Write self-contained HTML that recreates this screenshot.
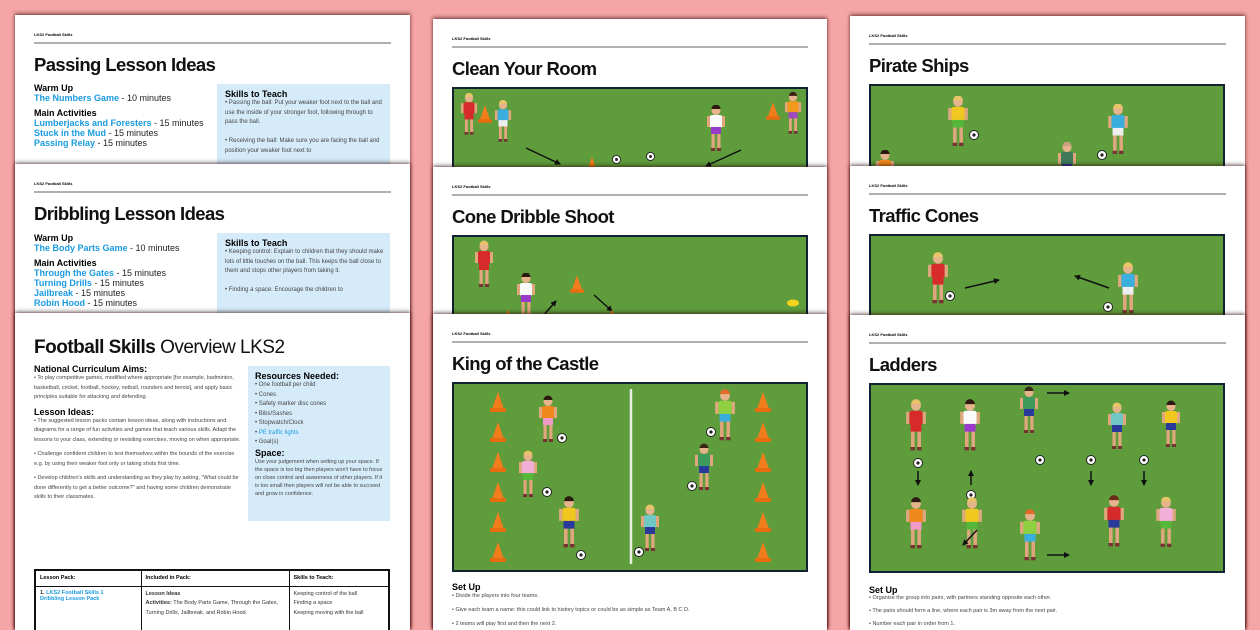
<!DOCTYPE html>
<html><head><meta charset="utf-8">
<style>
*{margin:0;padding:0;box-sizing:border-box}
html{width:1260px;height:630px;overflow:hidden}
body{width:1260px;height:630px;overflow:hidden;background:#f5a5a5;font-family:"Liberation Sans",sans-serif;position:relative}
.pg{position:absolute;background:#fff;bottom:0;box-shadow:0 -2px 4px rgba(0,0,0,.35),0 0 3px rgba(120,0,0,.6)}
.hd{position:absolute;left:19px;top:17px;font-size:4px;font-weight:bold;color:#000}
.rl{position:absolute;left:19px;right:19px;top:27px;height:2px;background:#b0b0b0}
.tt{position:absolute;left:19px;top:39px;font-size:18.5px;font-weight:bold;color:#111;letter-spacing:-.6px;white-space:nowrap}
.fd{position:absolute;left:19px;top:68px;width:356px;height:190px;border:2px solid #123;background:#5f9c3c}
.fd svg{position:absolute;left:0;top:0}
.s{position:absolute;font-size:9px;color:#222;line-height:10px;white-space:nowrap}
.b{font-weight:bold;color:#000}
.a{color:#1a9be0;font-weight:bold}
.box{position:absolute;background:#d6ebfa}
.sm{font-size:6px;line-height:9.5px;color:#444}
.sm li{margin-left:12px}
table{border-collapse:collapse}
</style></head><body>
<svg width="0" height="0" style="position:absolute">
<defs>
<symbol id="p" viewBox="0 0 20 46"><rect x="5.5" y="28" width="3.2" height="15" fill="#e0a77e"/><rect x="11.3" y="28" width="3.2" height="15" fill="#e0a77e"/><rect x="5" y="43" width="4" height="3" fill="#733"/><rect x="11" y="43" width="4" height="3" fill="#733"/><rect x="1" y="11" width="3" height="11" fill="#e0a77e"/><rect x="16" y="11" width="3" height="11" fill="#e0a77e"/><rect x="4" y="10" width="12" height="13" rx="2" fill="currentColor"/><rect x="5" y="22" width="10" height="7" style="fill:var(--s,#fff)"/><circle cx="10" cy="5.5" r="4.5" fill="#e6b48c"/><path d="M5.5 4a4.5 4.5 0 0 1 9 0z" style="fill:var(--h,#e7c46a)"/></symbol>
<symbol id="c" viewBox="0 0 16 20"><path d="M8 0L14 17H2z" fill="#f27d1c"/><rect x="0" y="16" width="16" height="4" rx="1" fill="#e86c10"/></symbol>
<symbol id="o" viewBox="0 0 10 10"><circle cx="5" cy="5" r="4.5" fill="#fff" stroke="#222" stroke-width="1"/><circle cx="5" cy="5" r="1.6" fill="#222"/></symbol>
<marker id="m" viewBox="0 0 6 6" refX="5" refY="3" markerWidth="4" markerHeight="4" orient="auto"><path d="M0 0L6 3L0 6z" fill="#111"/></marker>
</defs></svg>

<!-- LEFT COLUMN -->
<div class="pg" style="left:15px;top:15px;width:395px">
 <div class="hd">LKS2 Football Skills</div><div class="rl"></div>
 <div class="tt">Passing Lesson Ideas</div>
 <div class="s" style="left:19px;top:68px"><span class="b">Warm Up</span><br><span class="a">The Numbers Game</span> - 10 minutes<br><div style="height:5px"></div><span class="b">Main Activities</span><br><span class="a">Lumberjacks and Foresters</span> - 15 minutes<br><span class="a">Stuck in the Mud</span> - 15 minutes<br><span class="a">Passing Relay</span> - 15 minutes</div>
 <div class="box" style="left:202px;top:69px;width:173px;height:90px"><div class="s" style="left:8px;top:5px;white-space:normal;width:160px"><span class="b">Skills to Teach</span><div class="sm">• Passing the ball: Put your weaker foot next to the ball and use the inside of your stronger foot, following through to pass the ball.<br><br>• Receiving the ball: Make sure you are facing the ball and position your weaker foot next to</div></div></div>
</div>

<div class="pg" style="left:15px;top:164px;width:395px">
 <div class="hd">LKS2 Football Skills</div><div class="rl"></div>
 <div class="tt">Dribbling Lesson Ideas</div>
 <div class="s" style="left:19px;top:69px"><span class="b">Warm Up</span><br><span class="a">The Body Parts Game</span> - 10 minutes<br><div style="height:5px"></div><span class="b">Main Activities</span><br><span class="a">Through the Gates</span> - 15 minutes<br><span class="a">Turning Drills</span> - 15 minutes<br><span class="a">Jailbreak</span> - 15 minutes<br><span class="a">Robin Hood</span> - 15 minutes</div>
 <div class="box" style="left:202px;top:69px;width:173px;height:90px"><div class="s" style="left:8px;top:5px;white-space:normal;width:160px"><span class="b">Skills to Teach</span><div class="sm">• Keeping control: Explain to children that they should make lots of little touches on the ball. This keeps the ball close to them and stops other players from taking it.<br><br>• Finding a space: Encourage the children to</div></div></div>
</div>

<div class="pg" style="left:15px;top:313px;width:395px">
 <div style="position:absolute;left:19px;top:24px;font-size:19px;color:#111;white-space:nowrap;letter-spacing:-.5px"><b>Football Skills</b> Overview LKS2</div>
 <div class="s" style="left:19px;top:51px;width:210px;white-space:normal"><span class="b">National Curriculum Aims:</span><div class="sm" style="font-size:5.5px">• To play competitive games, modified where appropriate [for example, badminton, basketball, cricket, football, hockey, netball, rounders and tennis], and apply basic principles suitable for attacking and defending.</div><div style="height:4px"></div><span class="b">Lesson Ideas:</span><div class="sm" style="font-size:5.5px">• The suggested lesson packs contain lesson ideas, along with instructions and diagrams for a range of fun activities and games that teach various skills. Adapt the lessons to your class, extending or revisiting exercises, moving on when appropriate.<div style="height:5px"></div>• Challenge confident children to test themselves within the bounds of the exercise e.g. by using their weaker foot only or taking shots first time.<div style="height:5px"></div>• Develop children's skills and understanding as they play by asking, "What could be done differently to get a better outcome?" and having some children demonstrate skills to their classmates.</div></div>
 <div class="box" style="left:233px;top:53px;width:142px;height:155px"><div class="s" style="left:7px;top:5px;white-space:normal;width:130px"><span class="b">Resources Needed:</span><div class="sm">• One football per child<br>• Cones<br>• Safety marker disc cones<br>• Bibs/Sashes<br>• Stopwatch/Clock<br>• <span style="color:#1a9be0">PE traffic lights</span><br>• Goal(s)</div><span class="b">Space:</span><div class="sm" style="line-height:8px;font-size:5.5px">Use your judgement when setting up your space. If the space is too big then players won't have to focus on close control and awareness of other players. If it is too small then players will not be able to succeed and grow in confidence.</div></div></div>
 <table style="position:absolute;left:19px;top:256px;width:356px;border:2px solid #111;font-size:5.5px;color:#333">
  <tr style="height:16px;font-weight:bold;color:#000"><td style="width:106px;border:1px solid #111;padding:2px 4px">Lesson Pack:</td><td style="width:148px;border:1px solid #111;padding:2px 4px">Included in Pack:</td><td style="border:1px solid #111;padding:2px 4px">Skills to Teach:</td></tr>
  <tr style="height:60px;vertical-align:top"><td style="border:1px solid #111;padding:3px 4px"><b>1.</b> <span style="color:#1a9be0;font-weight:bold">LKS2 Football Skills 1<br>Dribbling Lesson Pack</span></td><td style="border:1px solid #111;padding:3px 4px;line-height:9.5px"><b>Lesson Ideas</b><br><b>Activities:</b> The Body Parts Game, Through the Gates, Turning Drills, Jailbreak, and Robin Hood.</td><td style="border:1px solid #111;padding:3px 4px;line-height:9.5px">Keeping control of the ball<br>Finding a space<br>Keeping moving with the ball</td></tr>
 </table>
</div>

<!-- MIDDLE COLUMN -->
<div class="pg" style="left:433px;top:19px;width:394px">
 <div class="hd">LKS2 Football Skills</div><div class="rl"></div>
 <div class="tt">Clean Your Room</div>
 <div class="fd"><svg width="352" height="186">
  <use href="#p" x="6" y="4" width="18" height="42" style="color:#d72a2a;--s:#d72a2a"/>
  <use href="#c" x="24" y="16" width="14" height="18"/>
  <use href="#p" x="40" y="10" width="18" height="44" style="color:#3aaedc;--s:#eee"/>
  <line x1="72" y1="59" x2="106" y2="75" stroke="#111" stroke-width="1.5" marker-end="url(#m)"/>
  <use href="#c" x="130" y="68" width="16" height="20"/>
  <use href="#o" x="158" y="66" width="9" height="9"/><use href="#o" x="192" y="63" width="9" height="9"/>
  <line x1="287" y1="61" x2="252" y2="77" stroke="#111" stroke-width="1.5" marker-end="url(#m)"/>
  <use href="#p" x="252" y="16" width="20" height="46" style="color:#fafafa;--s:#9a3acb;--h:#2a1a10"/>
  <use href="#c" x="312" y="12" width="14" height="20"/>
  <use href="#p" x="330" y="2" width="18" height="44" style="color:#f39a1c;--s:#a04ac0;--h:#3a2010"/>
 </svg></div>
</div>

<div class="pg" style="left:433px;top:167px;width:394px">
 <div class="hd">LKS2 Football Skills</div><div class="rl"></div>
 <div class="tt">Cone Dribble Shoot</div>
 <div class="fd"><svg width="352" height="186">
  <use href="#p" x="20" y="2" width="20" height="50" style="color:#d72a2a;--s:#d72a2a"/>
  <use href="#p" x="62" y="36" width="20" height="46" style="color:#fafafa;--s:#9a3acb;--h:#2a1a10"/>
  <use href="#c" x="116" y="37" width="14" height="20"/>
  <line x1="140" y1="58" x2="158" y2="74" stroke="#111" stroke-width="1.5" marker-end="url(#m)"/>
  <line x1="88" y1="80" x2="102" y2="64" stroke="#111" stroke-width="1.5" marker-end="url(#m)"/>
  <use href="#c" x="152" y="72" width="12" height="16"/><use href="#c" x="48" y="72" width="12" height="16"/>
  <ellipse cx="339" cy="66" rx="6" ry="3.5" fill="#f5d21c"/>
 </svg></div>
</div>

<div class="pg" style="left:433px;top:314px;width:394px">
 <div class="hd">LKS2 Football Skills</div><div class="rl"></div>
 <div class="tt">King of the Castle</div>
 <div class="fd" style="height:190px"><svg width="352" height="186">
  <line x1="177" y1="5" x2="177" y2="180" stroke="#e8efe0" stroke-width="2.5"/>
  <g>
  <use href="#c" x="36" y="8" width="16" height="20"/><use href="#c" x="36" y="38" width="16" height="20"/><use href="#c" x="36" y="68" width="16" height="20"/><use href="#c" x="36" y="98" width="16" height="20"/><use href="#c" x="36" y="128" width="16" height="20"/><use href="#c" x="36" y="158" width="16" height="20"/>
  <use href="#c" x="301" y="8" width="16" height="20"/><use href="#c" x="301" y="38" width="16" height="20"/><use href="#c" x="301" y="68" width="16" height="20"/><use href="#c" x="301" y="98" width="16" height="20"/><use href="#c" x="301" y="128" width="16" height="20"/><use href="#c" x="301" y="158" width="16" height="20"/>
  </g>
  <use href="#p" x="84" y="10" width="20" height="50" style="color:#f0891c;--s:#f09ac8;--h:#2a1a10"/><use href="#o" x="103" y="49" width="10" height="10"/>
  <use href="#p" x="64" y="64" width="20" height="52" style="color:#f2b0d8;--s:#55b83a"/><use href="#o" x="88" y="103" width="10" height="10"/>
  <use href="#p" x="104" y="112" width="22" height="52" style="color:#f0c820;--s:#2a3a9a;--h:#2a1a10"/><use href="#o" x="122" y="166" width="10" height="10"/>
  <use href="#p" x="260" y="5" width="22" height="52" style="color:#8ed040;--s:#3aaedc;--h:#e26a2a"/><use href="#o" x="252" y="43" width="10" height="10"/>
  <use href="#p" x="240" y="58" width="20" height="50" style="color:#3e9a5a;--s:#2a3a9a;--h:#3a2a18"/><use href="#o" x="233" y="97" width="10" height="10"/>
  <use href="#p" x="186" y="118" width="20" height="52" style="color:#70c8c4;--s:#2a3a9a"/><use href="#o" x="180" y="163" width="10" height="10"/>
 </svg></div>
 <div class="s" style="left:19px;top:268px;width:360px"><span class="b">Set Up</span><div class="sm" style="font-size:5.5px;line-height:14px;margin-top:-3px">• Divide the players into four teams.<br>• Give each team a name: this could link to history topics or could be as simple as Team A, B C D.<br>• 2 teams will play first and then the next 2.</div></div>
</div>

<!-- RIGHT COLUMN -->
<div class="pg" style="left:850px;top:16px;width:395px">
 <div class="hd">LKS2 Football Skills</div><div class="rl"></div>
 <div class="tt">Pirate Ships</div>
 <div class="fd"><svg width="352" height="186">
  <use href="#p" x="76" y="10" width="22" height="50" style="color:#f0c820;--s:#55b83a"/><use href="#o" x="98" y="44" width="10" height="10"/>
  <use href="#p" x="236" y="18" width="22" height="50" style="color:#3aaedc;--s:#eee"/><use href="#o" x="226" y="64" width="10" height="10"/>
  <use href="#p" x="186" y="56" width="20" height="46" style="color:#3e7a5a;--s:#2a3a9a;--h:#c8a080"/>
  <use href="#p" x="4" y="64" width="20" height="46" style="color:#f0891c;--s:#333;--h:#2a1a10"/>
 </svg></div>
</div>

<div class="pg" style="left:850px;top:166px;width:395px">
 <div class="hd">LKS2 Football Skills</div><div class="rl"></div>
 <div class="tt">Traffic Cones</div>
 <div class="fd"><svg width="352" height="186">
  <use href="#p" x="56" y="16" width="22" height="52" style="color:#d72a2a;--s:#d72a2a"/><use href="#o" x="74" y="55" width="10" height="10"/>
  <line x1="94" y1="52" x2="128" y2="44" stroke="#111" stroke-width="1.5" marker-end="url(#m)"/>
  <line x1="238" y1="52" x2="204" y2="40" stroke="#111" stroke-width="1.5" marker-end="url(#m)"/>
  <use href="#p" x="246" y="26" width="22" height="52" style="color:#3aaedc;--s:#eee"/><use href="#o" x="232" y="66" width="10" height="10"/>
 </svg></div>
</div>

<div class="pg" style="left:850px;top:315px;width:395px">
 <div class="hd">LKS2 Football Skills</div><div class="rl"></div>
 <div class="tt">Ladders</div>
 <div class="fd" style="height:190px"><svg width="352" height="186">
  <use href="#p" x="34" y="14" width="22" height="52" style="color:#d72a2a;--s:#d72a2a"/>
  <use href="#p" x="88" y="14" width="22" height="52" style="color:#fafafa;--s:#9a3acb;--h:#2a1a10"/>
  <use href="#p" x="148" y="0" width="20" height="50" style="color:#3e9a5a;--s:#2a3a9a;--h:#3a2a18"/>
  <line x1="176" y1="8" x2="198" y2="8" stroke="#111" stroke-width="1.5" marker-end="url(#m)"/>
  <use href="#p" x="236" y="16" width="20" height="50" style="color:#70c8c4;--s:#2a3a9a"/>
  <use href="#p" x="290" y="14" width="20" height="50" style="color:#f0c820;--s:#2a3a9a;--h:#2a1a10"/>
  <use href="#o" x="42" y="73" width="10" height="10"/><use href="#o" x="95" y="105" width="10" height="10"/><use href="#o" x="164" y="70" width="10" height="10"/><use href="#o" x="215" y="70" width="10" height="10"/><use href="#o" x="268" y="70" width="10" height="10"/>
  <line x1="47" y1="86" x2="47" y2="100" stroke="#111" stroke-width="1.5" marker-end="url(#m)"/>
  <line x1="100" y1="100" x2="100" y2="86" stroke="#111" stroke-width="1.5" marker-end="url(#m)"/>
  <line x1="220" y1="86" x2="220" y2="100" stroke="#111" stroke-width="1.5" marker-end="url(#m)"/>
  <line x1="273" y1="86" x2="273" y2="100" stroke="#111" stroke-width="1.5" marker-end="url(#m)"/>
  <use href="#p" x="34" y="112" width="22" height="52" style="color:#f0891c;--s:#f09ac8;--h:#2a1a10"/>
  <use href="#p" x="90" y="112" width="22" height="52" style="color:#f0c820;--s:#55b83a"/>
  <line x1="106" y1="145" x2="92" y2="160" stroke="#111" stroke-width="1.5" marker-end="url(#m)"/>
  <use href="#p" x="148" y="124" width="22" height="52" style="color:#8ed040;--s:#3aaedc;--h:#e26a2a"/>
  <line x1="176" y1="170" x2="198" y2="170" stroke="#111" stroke-width="1.5" marker-end="url(#m)"/>
  <use href="#p" x="232" y="110" width="22" height="52" style="color:#d72a2a;--s:#2a3a9a;--h:#6a2a18"/>
  <use href="#p" x="284" y="112" width="22" height="50" style="color:#f2b0d8;--s:#55b83a"/>
 </svg></div>
 <div class="s" style="left:19px;top:270px;width:360px"><span class="b">Set Up</span><div class="sm" style="font-size:5.5px;line-height:13px;margin-top:-3px">• Organise the group into pairs, with partners standing opposite each other.<br>• The pairs should form a line, where each pair is 3m away from the next pair.<br>• Number each pair in order from 1.</div></div>
</div>
</body></html>
